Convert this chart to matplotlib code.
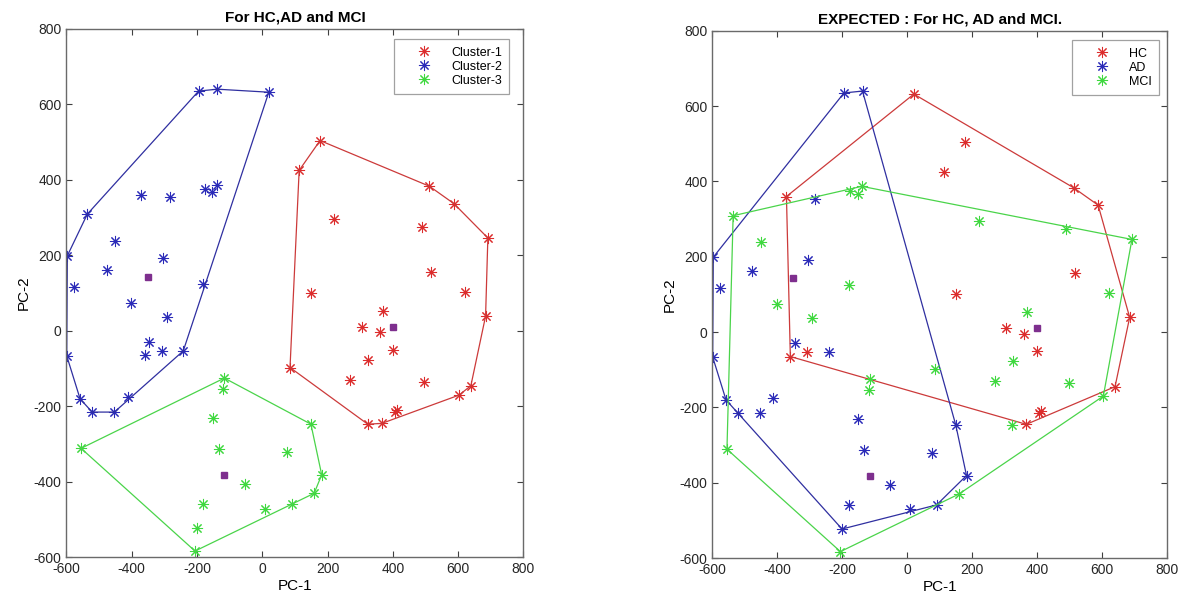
import matplotlib
matplotlib.use("Agg")
import matplotlib.pyplot as plt
import numpy as np

# ---- data ----
pc1 = [-597, -536, -195, -138, 20, -372, -283, -175, -153, -140, -451, -305, -477,
       -577, -181, -402, -293, -346, -308, -242, -360, -599, -558, -521, -453, -412,
       177, 113, 512, 587, 691, 220, 489, 517, 620, 150, 684, 369, 305, 360, 399,
       325, 270, 496, 85, 639, 603, 406, 412, 323, 366,
       -116, -119, -151, 149, -555, -134, 77, 182, -54, 159, -181, 9, 90, -201, -206]
pc2 = [199, 309, 635, 640, 632, 360, 354, 375, 367, 387, 239, 192, 162,
       116, 125, 74, 38, -29, -53, -53, -65, -66, -180, -215, -215, -174,
       504, 425, 383, 337, 246, 295, 274, 157, 104, 101, 39, 52, 11, -4, -50,
       -77, -131, -135, -97, -145, -170, -214, -209, -247, -245,
       -125, -154, -232, -247, -311, -312, -320, -381, -405, -430, -459, -471, -459, -523, -583]
cluster = [2] * 26 + [1] * 25 + [3] * 15
expected = ["AD", "MCI", "AD", "AD", "HC", "HC", "AD", "MCI", "MCI", "MCI", "MCI", "AD", "AD",
            "AD", "MCI", "MCI", "MCI", "AD", "HC", "AD", "HC", "AD", "AD", "AD", "AD", "AD",
            "HC", "HC", "HC", "HC", "MCI", "MCI", "MCI", "HC", "MCI", "HC", "HC", "MCI", "HC", "HC", "HC",
            "MCI", "MCI", "MCI", "MCI", "HC", "MCI", "HC", "HC", "MCI", "HC",
            "MCI", "MCI", "AD", "AD", "MCI", "AD", "AD", "AD", "AD", "MCI", "AD", "AD", "AD", "AD", "MCI"]
centroid_pc1 = [-351, 399, -116]
centroid_pc2 = [143, 11, -381]

cluster_ids = [1, 2, 3]
cluster_names = ["Cluster-1", "Cluster-2", "Cluster-3"]
class_names = ["HC", "AD", "MCI"]
xticks = [-600, -400, -200, 0, 200, 400, 600, 800]
yticks = [-600, -400, -200, 0, 200, 400, 600, 800]

# ---- style ----
plt.rcParams["font.family"] = ["Liberation Sans", "DejaVu Sans"]
plt.rcParams["axes.unicode_minus"] = False
colors = ["#dc2c2c", "#2a2ab8", "#3fd83f"]
line_colors = ["#cc3a3a", "#2f2fa0", "#4ad44a"]
purple = "#7e2f8e"
star = (8, 2, 0)

pc1 = np.array(pc1, float)
pc2 = np.array(pc2, float)
cluster = np.array(cluster)
expected = np.array(expected)


def convex_hull(xs, ys):
    pts = sorted(set(zip(xs, ys)))
    if len(pts) < 3:
        return pts

    def cross(o, a, b):
        return (a[0] - o[0]) * (b[1] - o[1]) - (a[1] - o[1]) * (b[0] - o[0])

    lower, upper = [], []
    for p in pts:
        while len(lower) >= 2 and cross(lower[-2], lower[-1], p) <= 0:
            lower.pop()
        lower.append(p)
    for p in reversed(pts):
        while len(upper) >= 2 and cross(upper[-2], upper[-1], p) <= 0:
            upper.pop()
        upper.append(p)
    hull = lower[:-1] + upper[:-1]
    return hull + [hull[0]]


def style_axes(ax, title):
    ax.set_xlim(-600, 800)
    ax.set_ylim(-600, 800)
    ax.set_xticks(xticks)
    ax.set_yticks(yticks)
    ax.tick_params(direction="in", length=4, width=0.8, top=True, right=True,
                   labelsize=10, colors="#404040", labelcolor="#262626")
    for s in ax.spines.values():
        s.set_color("#6a6a6a")
        s.set_linewidth(1.0)
    ax.set_title(title, fontsize=11, fontweight="bold", pad=5)
    ax.set_xlabel("PC-1", fontsize=11, labelpad=2)
    ax.set_ylabel("PC-2", fontsize=11, labelpad=2)


fig = plt.figure(figsize=(11.94, 6.03), dpi=100)
ax1 = fig.add_axes([0.0556, 0.0755, 0.3828, 0.8768])
ax2 = fig.add_axes([0.5966, 0.0746, 0.3811, 0.8743])

# left: clusters
for cid, name, c, lc in zip(cluster_ids, cluster_names, colors, line_colors):
    m = cluster == cid
    ax1.plot(pc1[m], pc2[m], linestyle="none", marker=star, markersize=8,
             markeredgewidth=0.75, color=c, label=name)
    hull = convex_hull(pc1[m], pc2[m])
    ax1.plot([p[0] for p in hull], [p[1] for p in hull], color=lc, linewidth=0.9)
ax1.plot(centroid_pc1, centroid_pc2, linestyle="none", marker="s", markersize=4,
         color=purple)
style_axes(ax1, "For HC,AD and MCI")

# right: expected classes
for name, c, lc in zip(class_names, colors, line_colors):
    m = expected == name
    ax2.plot(pc1[m], pc2[m], linestyle="none", marker=star, markersize=8,
             markeredgewidth=0.75, color=c, label=name)
    hull = convex_hull(pc1[m], pc2[m])
    ax2.plot([p[0] for p in hull], [p[1] for p in hull], color=lc, linewidth=0.9)
ax2.plot(centroid_pc1, centroid_pc2, linestyle="none", marker="s", markersize=4,
         color=purple)
style_axes(ax2, "EXPECTED : For HC, AD and MCI.")

for ax, anchor in ((ax1, (0.969, 0.980)), (ax2, (0.982, 0.982))):
    leg = ax.legend(loc="upper right", bbox_to_anchor=anchor, borderaxespad=0,
                    fontsize=9, frameon=True, fancybox=False, borderpad=0.6,
                    handlelength=3.6, handletextpad=0.35, labelspacing=0.16)
    leg.get_frame().set_edgecolor("#8a8a8a")
    leg.get_frame().set_linewidth(0.9)

fig.savefig("out.png", dpi=100, facecolor="white")
